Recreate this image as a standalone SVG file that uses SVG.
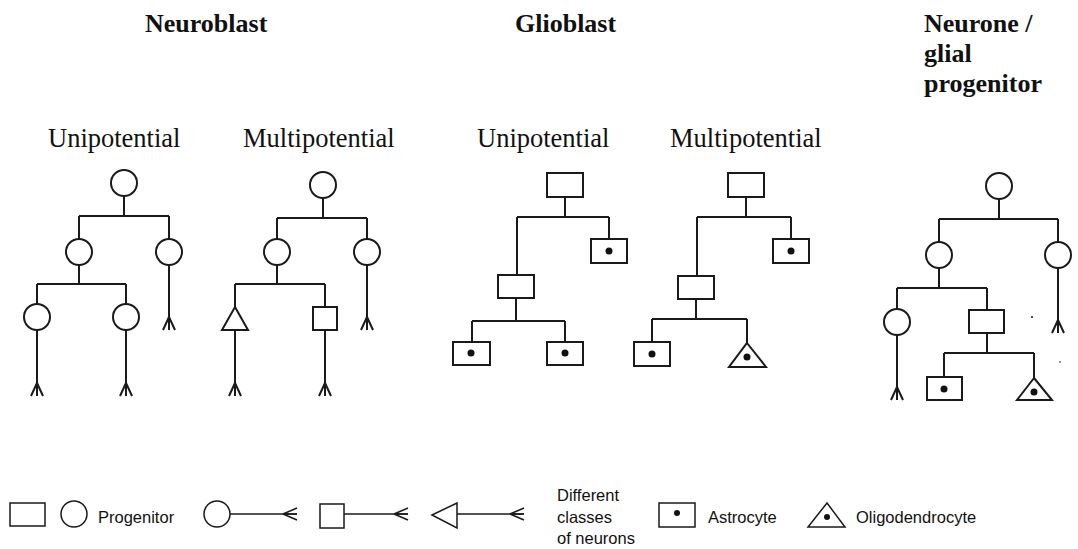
<svg xmlns="http://www.w3.org/2000/svg" xmlns:xlink="http://www.w3.org/1999/xlink" width="1078" height="549" viewBox="0 0 1078 549">
<style>
.s{fill:#fff;stroke:#1a1a1a;stroke-width:2}
.l{fill:none;stroke:#1a1a1a;stroke-width:2}
.ll{fill:none;stroke:#1a1a1a;stroke-width:1.5}
.d{fill:#111}
.h{font-family:"Liberation Serif",serif;font-weight:bold;font-size:26px;fill:#111}
.sh{font-family:"Liberation Serif",serif;font-size:26.5px;fill:#111}
.t{font-family:"Liberation Sans",Arial,sans-serif;font-size:16.5px;fill:#111}
</style>
<defs>
<path id="fd" d="M0,-13 L-6,0 M0,-13 L0,0 M0,-13 L6,0" class="l"/>
<path id="fr" d="M-14,0 L0,-6 M-14,0 L0,0 M-14,0 L0,6" class="ll"/>
</defs>
<rect width="1078" height="549" fill="#fff"/>
<g id="titles">
<text class="h" x="145" y="32">Neuroblast</text>
<text class="h" x="515" y="32">Glioblast</text>
<text class="h" x="924" y="32">Neurone /</text>
<text class="h" x="924" y="62">glial</text>
<text class="h" x="924" y="92">progenitor</text>
<text class="sh" x="48" y="147">Unipotential</text>
<text class="sh" x="243" y="147">Multipotential</text>
<text class="sh" x="477" y="147">Unipotential</text>
<text class="sh" x="670" y="147">Multipotential</text>
</g>
<g id="connectors">
<path class="l" d="M124,196 V216 M79,216 H169 M79,216 V239 M169,216 V239 M79,265 V284 M37,284 H126 M37,284 V304 M126,284 V304 M37,330 V396 M126,330 V396 M169,265 V330"/>
<use xlink:href="#fd" x="37" y="396"/><use xlink:href="#fd" x="126" y="396"/><use xlink:href="#fd" x="169" y="330"/>
<path class="l" d="M323,198 V218 M277,218 H367 M277,218 V239 M367,218 V239 M277,265 V284 M235,284 H325 M235,284 V307 M325,284 V307 M235,330 V396 M325,330 V396 M367,265 V330"/>
<use xlink:href="#fd" x="235" y="396"/><use xlink:href="#fd" x="325" y="396"/><use xlink:href="#fd" x="367" y="330"/>
<path class="l" d="M565,197 V217 M517,217 H609 M609,217 V239 M517,217 V275 M516,298 V321 M472,321 H565 M472,321 V342 M565,321 V342"/>
<path class="l" d="M746,197 V217 M697,217 H791 M791,217 V239 M697,217 V276 M696,299 V319 M652,319 H747 M652,319 V342 M747,319 V343"/>
<path class="l" d="M999,199 V219 M939,219 H1058 M939,219 V242 M1058,219 V242 M939,268 V288 M897,288 H987 M897,288 V309 M987,288 V310 M897,335 V400 M1058,268 V333 M987,333 V353 M944,353 H1034 M944,353 V377 M1034,353 V378"/>
<use xlink:href="#fd" x="897" y="400"/><use xlink:href="#fd" x="1058" y="333"/>
</g>
<g id="nb-uni">
<circle class="s" cx="124" cy="183" r="13"/>
<circle class="s" cx="79" cy="252" r="13"/>
<circle class="s" cx="169" cy="252" r="13"/>
<circle class="s" cx="37" cy="317" r="13"/>
<circle class="s" cx="126" cy="317" r="13"/>
</g>
<g id="nb-multi">
<circle class="s" cx="323" cy="185" r="13"/>
<circle class="s" cx="277" cy="252" r="13"/>
<circle class="s" cx="367" cy="252" r="13"/>
<path class="s" d="M235,307 L248,330 L222,330 Z"/>
<rect class="s" x="313" y="307" width="24" height="23"/>
</g>
<g id="gb-uni">
<rect class="s" x="547" y="173" width="36" height="24"/>
<rect class="s" x="591" y="239" width="36" height="24"/><circle class="d" cx="609" cy="251" r="3.5"/>
<rect class="s" x="498" y="275" width="36" height="23"/>
<rect class="s" x="453" y="342" width="37" height="23"/><circle class="d" cx="471" cy="353" r="3.5"/>
<rect class="s" x="547" y="342" width="36" height="23"/><circle class="d" cx="565" cy="353" r="3.5"/>
</g>
<g id="gb-multi">
<rect class="s" x="728" y="173" width="36" height="24"/>
<rect class="s" x="773" y="239" width="36" height="24"/><circle class="d" cx="791" cy="251" r="3.5"/>
<rect class="s" x="678" y="276" width="36" height="23"/>
<rect class="s" x="634" y="342" width="36" height="24"/><circle class="d" cx="652" cy="354" r="3.5"/>
<path class="s" d="M747,343 L766,367 L729,367 Z"/><circle class="d" cx="747" cy="357" r="3.5"/>
</g>
<g id="ng">
<circle class="s" cx="999" cy="186" r="13"/>
<circle class="s" cx="939" cy="255" r="13"/>
<circle class="s" cx="1058" cy="255" r="13"/>
<circle class="s" cx="897" cy="322" r="13"/>
<rect class="s" x="969" y="310" width="35" height="23"/>
<rect class="s" x="927" y="377" width="35" height="23"/><circle class="d" cx="944" cy="389" r="3.5"/>
<path class="s" d="M1034,378 L1052,400 L1017,400 Z"/><circle class="d" cx="1034" cy="392" r="3.5"/>
<circle class="d" cx="1032" cy="317" r="1"/>
<circle class="d" cx="1060" cy="362" r="0.8"/>
</g>
<g id="legend">
<rect class="s" style="stroke-width:1.5" x="10" y="503" width="35" height="23"/>
<circle class="s" style="stroke-width:1.5" cx="74" cy="514" r="13"/>
<text class="t" x="98" y="523">Progenitor</text>
<circle class="s" style="stroke-width:1.5" cx="217" cy="514" r="13"/>
<path class="ll" d="M230,514 H297"/><use xlink:href="#fr" x="297" y="514"/>
<rect class="s" style="stroke-width:1.5" x="320" y="504" width="24" height="24"/>
<path class="ll" d="M344,514 H408"/><use xlink:href="#fr" x="408" y="514"/>
<path class="s" style="stroke-width:1.5" d="M432,515 L457,503 L457,528 Z"/>
<path class="ll" d="M457,514 H524"/><use xlink:href="#fr" x="524" y="514"/>
<text class="t" x="557" y="501">Different</text>
<text class="t" x="557" y="523">classes</text>
<text class="t" x="557" y="544">of neurons</text>
<rect class="s" style="stroke-width:1.5" x="659" y="503" width="36" height="24"/><circle class="d" cx="677" cy="513" r="3"/>
<text class="t" x="708" y="523">Astrocyte</text>
<path class="s" style="stroke-width:1.5" d="M827,503 L845,527 L808,527 Z"/><circle class="d" cx="827" cy="517" r="3"/>
<text class="t" x="856" y="523">Oligodendrocyte</text>
</g>
</svg>
